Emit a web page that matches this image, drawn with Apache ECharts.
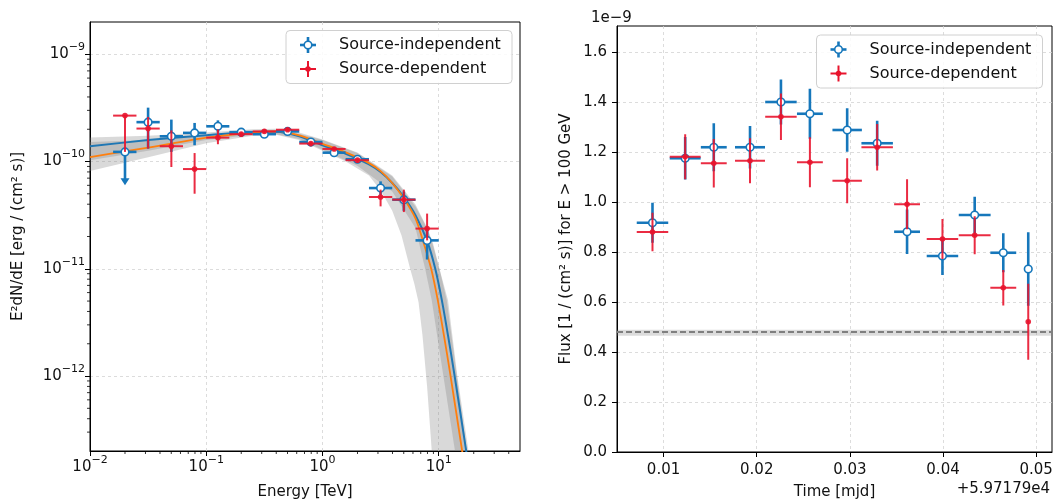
<!DOCTYPE html>
<html><head><meta charset="utf-8">
<script src="https://cdn.jsdelivr.net/npm/echarts@6/dist/echarts.min.js"></script>
<style>html,body{margin:0;padding:0;background:#fff}#c{width:1053px;height:499px}</style>
</head><body><div id="c"></div>
<script>
// ================= DATA =================
// --- Left panel: SED flux points (energy in TeV, E^2 dN/dE in erg/cm2/s) ---
const sedEnergy    = [0.0200,0.0316,0.0501,0.0794,0.126,0.200,0.316,0.501,0.794,1.26,2.00,3.16,5.01,7.94];
const sedEnergyMin = [0.0158,0.0251,0.0398,0.0631,0.100,0.158,0.251,0.398,0.631,1.00,1.58,2.51,3.98,6.31];
const sedEnergyMax = [0.0251,0.0398,0.0631,0.100,0.158,0.251,0.398,0.631,1.00,1.58,2.51,3.98,6.31,10.0];
// Source-independent
const sedIndep   = [1.23e-10,2.33e-10,1.72e-10,1.85e-10,2.13e-10,1.88e-10,1.80e-10,1.91e-10,1.52e-10,1.21e-10,1.05e-10,5.66e-11,4.41e-11,1.84e-11];
const sedIndepLo = [6.15e-11,1.32e-10,1.23e-10,1.42e-10,1.86e-10,1.80e-10,1.71e-10,1.82e-10,1.45e-10,1.16e-10,1.00e-10,4.84e-11,3.47e-11,1.22e-11];
const sedIndepHi = [1.23e-10,3.18e-10,2.46e-10,2.29e-10,2.42e-10,1.97e-10,1.88e-10,2.00e-10,1.58e-10,1.26e-10,1.10e-10,6.53e-11,5.25e-11,2.37e-11];
const sedIndepUL = [1,0,0,0,0,0,0,0,0,0,0,0,0,0];
// Source-dependent
const sedDep   = [2.68e-10,2.03e-10,1.39e-10,8.51e-11,1.67e-10,1.80e-10,1.91e-10,1.98e-10,1.47e-10,1.31e-10,1.03e-10,4.67e-11,4.41e-11,2.37e-11];
const sedDepLo = [1.23e-10,1.32e-10,8.89e-11,5.01e-11,1.45e-10,1.71e-10,1.84e-10,1.91e-10,1.41e-10,1.26e-10,9.77e-11,3.82e-11,3.38e-11,1.84e-11];
const sedDepHi = [2.72e-10,2.60e-10,1.95e-10,1.20e-10,1.99e-10,1.88e-10,2.00e-10,2.07e-10,1.53e-10,1.36e-10,1.07e-10,5.47e-11,5.47e-11,3.27e-11];
// Model curves as [log10(E/TeV), log10(flux)]
const indepModelLog = [[-2.0,-9.858],[-1.5,-9.80],[-1.0,-9.755],[-0.6,-9.725],[-0.4,-9.722],[-0.2,-9.765],[0.0,-9.849],[0.2,-9.927],[0.4,-10.026],[0.5,-10.098],[0.6,-10.20],[0.7,-10.331],[0.8,-10.50],[0.9,-10.74],[0.97,-11.0],[1.027,-11.295],[1.08,-11.624],[1.13,-11.954],[1.233,-12.675],[1.28,-13.02]];
const depModelLog   = [[-2.0,-9.958],[-1.5,-9.87],[-1.0,-9.777],[-0.6,-9.73],[-0.4,-9.718],[-0.2,-9.755],[0.0,-9.835],[0.2,-9.915],[0.4,-10.015],[0.5,-10.09],[0.6,-10.20],[0.7,-10.345],[0.8,-10.53],[0.865,-10.74],[0.935,-11.0],[0.992,-11.295],[1.045,-11.624],[1.095,-11.954],[1.198,-12.675],[1.245,-13.02]];
// Error bands (upper edge and lower edge), [log10(E), log10(flux)]
const indepBandUpper = [[-2.1,-9.78],[-2,-9.777],[-1.5,-9.76],[-1,-9.73],[-0.6,-9.70],[-0.4,-9.695],[-0.2,-9.73],[0,-9.795],[0.3,-9.915],[0.6,-10.13],[0.8,-10.40],[0.9,-10.62],[0.95,-10.76],[1.006,-11.0],[1.08,-11.295],[1.16,-12.0],[1.256,-12.70],[1.30,-13.1]];
const indepBandLower = [[-2.1,-10.01],[-2,-9.989],[-1.5,-9.90],[-1,-9.80],[-0.6,-9.75],[-0.4,-9.745],[-0.2,-9.79],[0,-9.89],[0.3,-10.04],[0.6,-10.28],[0.8,-10.62],[0.883,-11.0],[0.94,-11.295],[1.04,-12.0],[1.14,-12.70],[1.18,-13.1]];
const depBandUpper   = [[-2.1,-9.82],[-2,-9.818],[-1.5,-9.80],[-1,-9.76],[-0.6,-9.715],[-0.4,-9.705],[-0.2,-9.74],[0,-9.80],[0.3,-9.92],[0.6,-10.14],[0.8,-10.42],[0.9,-10.62],[0.95,-10.78],[1.006,-11.0],[1.069,-11.295],[1.15,-11.95],[1.241,-12.70],[1.28,-13.1]];
const depBandLower   = [[-2.1,-10.12],[-2,-10.089],[-1.5,-9.96],[-1,-9.83],[-0.6,-9.76],[-0.4,-9.75],[-0.2,-9.80],[0,-9.90],[0.2,-10.0],[0.4,-10.13],[0.5,-10.27],[0.6,-10.46],[0.68,-10.69],[0.754,-11.0],[0.79,-11.14],[0.826,-11.31],[0.86,-11.62],[0.90,-12.1],[0.94,-12.70],[0.96,-13.1]];
// Axis ranges / ticks (log10 units)
const sedXMin = -2, sedXMax = Math.log10(50);
const sedYMin = Math.log10(2e-13), sedYMax = Math.log10(2e-9);
const sedXTicks = [-2,-1,0,1];
const sedYTicks = [-12,-11,-10,-9];

// --- Right panel: light curve (time offset from 59717.9 MJD, flux in 1e-9 /cm2/s) ---
const lcTime    = [0.00881,0.01232,0.01539,0.01928,0.02260,0.02571,0.02971,0.03293,0.03614,0.03994,0.04340,0.04647,0.04915];
const lcTimeErr = [0.00169,0.00166,0.00139,0.00161,0.00169,0.00139,0.00158,0.00169,0.00139,0.00169,0.00171,0.00139,0.0001];
const lcIndep    = [0.917,1.175,1.219,1.219,1.400,1.353,1.288,1.235,0.881,0.784,0.948,0.797,0.732];
const lcIndepErr = [0.080,0.085,0.096,0.085,0.090,0.100,0.087,0.090,0.089,0.076,0.073,0.078,0.147];
const lcDep      = [0.880,1.181,1.155,1.165,1.341,1.159,1.085,1.219,0.991,0.852,0.867,0.657,0.521];
const lcDepErr   = [0.077,0.090,0.097,0.090,0.093,0.100,0.090,0.093,0.100,0.080,0.076,0.071,0.152];
const refFlux = 0.477, refFluxErr = 0.012;
const lcXMin = 0.005, lcXMax = 0.0517, lcYMin = 0, lcYMax = 1.704;
const lcXTicks = [0.01,0.02,0.03,0.04,0.05];
const lcYTicks = [0,0.2,0.4,0.6,0.8,1.0,1.2,1.4,1.6];

// ================= STYLE =================
const FONT = 'DejaVu Sans';
const BLUE = '#1677bb', RED = '#e8142d', ORANGE = '#ff7f0e', MBLUE = '#1f77b4';
const lg = Math.log10;

// ================= BUILD =================
const sedIndepData = sedEnergy.map((e,i)=>[lg(e),lg(sedIndep[i]),lg(sedEnergyMin[i]),lg(sedEnergyMax[i]),lg(sedIndepLo[i]),lg(sedIndepHi[i]),sedIndepUL[i]]);
const sedDepData = sedEnergy.map((e,i)=>[lg(e),lg(sedDep[i]),lg(sedEnergyMin[i]),lg(sedEnergyMax[i]),lg(sedDepLo[i]),lg(sedDepHi[i]),0]);
const lcIndepData = lcTime.map((t,i)=>[t,lcIndep[i],t-lcTimeErr[i],t+lcTimeErr[i],lcIndep[i]-lcIndepErr[i],lcIndep[i]+lcIndepErr[i],0]);
const lcDepData = lcTime.map((t,i)=>[t,lcDep[i],t-lcTimeErr[i],t+lcTimeErr[i],lcDep[i]-lcDepErr[i],lcDep[i]+lcDepErr[i],0]);

function minorVals(lo, hi){
  const out=[];
  for(let n=Math.floor(lo); n<=Math.ceil(hi); n++) for(let k=2;k<=9;k++){const v=n+Math.log10(k); if(v>lo && v<hi) out.push(v);}
  return out;
}
const sedXMinor = minorVals(sedXMin, sedXMax);
const sedYMinor = minorVals(sedYMin, sedYMax);

function makeErrRender(color, lw, marker, opacity){
  return function(params, api){
    const x=api.value(0), y=api.value(1), xl=api.value(2), xh=api.value(3), yl=api.value(4), yh=api.value(5), ul=api.value(6);
    const c=api.coord([x,y]);
    const a=api.coord([xl,y]), b=api.coord([xh,y]);
    const lo=api.coord([x,yl]), hi=api.coord([x,yh]);
    const ls={stroke:color, lineWidth:lw, opacity:opacity};
    const ch=[
      {type:'line', shape:{x1:a[0],y1:c[1],x2:b[0],y2:c[1]}, style:ls},
      {type:'line', shape:{x1:c[0],y1:hi[1],x2:c[0],y2:ul?lo[1]-4:lo[1]}, style:ls}
    ];
    if(ul) ch.push({type:'polygon', shape:{points:[[c[0]-4.5,lo[1]-6],[c[0]+4.5,lo[1]-6],[c[0],lo[1]+1]]}, style:{fill:color}});
    if(marker==='open') ch.push({type:'circle', shape:{cx:c[0],cy:c[1],r:3.8}, style:{fill:'#fff', stroke:color, lineWidth:1.6}});
    else ch.push({type:'circle', shape:{cx:c[0],cy:c[1],r:2.8}, style:{fill:color, opacity:opacity}});
    return {type:'group', children:ch};
  };
}
function makeBandRender(upper, lower){
  return function(params, api){
    if(params.dataIndex!==0) return null;
    const pts = upper.map(p=>api.coord(p)).concat(lower.slice().reverse().map(p=>api.coord(p)));
    return {type:'polygon', shape:{points:pts}, style:{fill:'rgba(128,128,128,0.3)'}};
  };
}
function minorXRender(params, api){
  const p=api.coord([api.value(0), sedYMin]);
  return {type:'line', shape:{x1:p[0],y1:p[1],x2:p[0],y2:p[1]+3}, style:{stroke:'#000', lineWidth:0.8}};
}
function minorYRender(params, api){
  const p=api.coord([sedXMin, api.value(1)]);
  return {type:'line', shape:{x1:p[0]-3,y1:p[1],x2:p[0],y2:p[1]}, style:{stroke:'#000', lineWidth:0.8}};
}

const pow10 = v => '{b|10}{s|' + (v<0?'\u2212':'') + Math.abs(v) + '}';
const powRich = {
  b:{fontSize:15, fontFamily:FONT, color:'#111', lineHeight:16},
  s:{fontSize:11, fontFamily:FONT, color:'#111', lineHeight:12, padding:[0,0,14,0]}
};
const splitStyle = {show:true, lineStyle:{color:'#d3d3d3', width:0.8, type:[3,3]}};
const axLine = {show:true, onZero:false, lineStyle:{color:'#000', width:1}};
const nameStyle = {fontFamily:FONT, fontSize:15, color:'#111'};

function legendGraphic(x0, y0){
  const items=[];
  items.push({type:'rect', shape:{x:x0, y:y0, width:226, height:53, r:4}, style:{fill:'rgba(255,255,255,0.85)', stroke:'#d0d0d0', lineWidth:1}, z:100});
  const mx=x0+22, r1=y0+14.5, r2=y0+38.5;
  items.push({type:'line', shape:{x1:mx-8,y1:r1,x2:mx+8,y2:r1}, style:{stroke:BLUE, lineWidth:2.6}, z:101});
  items.push({type:'line', shape:{x1:mx,y1:r1-8,x2:mx,y2:r1+8}, style:{stroke:BLUE, lineWidth:2.6}, z:101});
  items.push({type:'circle', shape:{cx:mx,cy:r1,r:3.8}, style:{fill:'#fff', stroke:BLUE, lineWidth:1.6}, z:102});
  items.push({type:'line', shape:{x1:mx-8,y1:r2,x2:mx+8,y2:r2}, style:{stroke:RED, lineWidth:2}, z:101});
  items.push({type:'line', shape:{x1:mx,y1:r2-8,x2:mx,y2:r2+8}, style:{stroke:RED, lineWidth:2}, z:101});
  items.push({type:'circle', shape:{cx:mx,cy:r2,r:2.8}, style:{fill:RED}, z:102});
  items.push({type:'text', x:x0+53, y:r1, style:{text:'Source-independent', font:'16px "DejaVu Sans"', fill:'#111', verticalAlign:'middle', align:'left'}, z:102});
  items.push({type:'text', x:x0+53, y:r2, style:{text:'Source-dependent', font:'16px "DejaVu Sans"', fill:'#111', verticalAlign:'middle', align:'left'}, z:102});
  return items;
}

const option = {
  animation:false,
  backgroundColor:'#fff',
  textStyle:{fontFamily:FONT},
  grid:[
    {left:90, top:22, right:533, bottom:48, show:true, borderColor:'#000', borderWidth:1, backgroundColor:'transparent', containLabel:false, outerBoundsMode:'none'},
    {left:617, top:26, right:1, bottom:47, show:true, borderColor:'#000', borderWidth:1, backgroundColor:'transparent', containLabel:false, outerBoundsMode:'none'}
  ],
  xAxis:[
    {type:'value', gridIndex:0, min:sedXMin, max:sedXMax,
     axisLine:axLine, axisTick:{show:true, length:5, customValues:sedXTicks, lineStyle:{color:'#000'}},
     axisLabel:{customValues:sedXTicks, formatter:pow10, rich:powRich, margin:8},
     splitLine:splitStyle,
     name:'Energy [TeV]', nameLocation:'middle', nameGap:33, nameTextStyle:nameStyle},
    {type:'value', gridIndex:1, min:lcXMin, max:lcXMax,
     axisLine:axLine, axisTick:{show:true, length:5, customValues:lcXTicks, lineStyle:{color:'#000'}},
     axisLabel:{customValues:lcXTicks, formatter:v=>v.toFixed(2), fontSize:15, fontFamily:FONT, color:'#111', margin:11},
     splitLine:splitStyle,
     name:'Time [mjd]', nameLocation:'middle', nameGap:33, nameTextStyle:nameStyle}
  ],
  yAxis:[
    {type:'value', gridIndex:0, min:sedYMin, max:sedYMax,
     axisLine:axLine, axisTick:{show:true, length:5, customValues:sedYTicks, lineStyle:{color:'#000'}},
     axisLabel:{customValues:sedYTicks, formatter:pow10, rich:powRich, margin:5},
     splitLine:splitStyle,
     name:'E\u00b2dN/dE [erg / (cm\u00b2 s)]', nameLocation:'middle', nameGap:64, nameRotate:90, nameTextStyle:nameStyle},
    {type:'value', gridIndex:1, min:lcYMin, max:lcYMax,
     axisLine:axLine, axisTick:{show:true, length:5, customValues:lcYTicks, lineStyle:{color:'#000'}},
     axisLabel:{customValues:lcYTicks, formatter:v=>v.toFixed(1), fontSize:15, fontFamily:FONT, color:'#111', margin:10},
     splitLine:splitStyle,
     name:'Flux [1 / (cm\u00b2 s)] for E > 100 GeV', nameLocation:'middle', nameGap:43, nameRotate:90, nameTextStyle:nameStyle}
  ],
  series:[
    {type:'custom', xAxisIndex:0, yAxisIndex:0, clip:true, z:1, silent:true, data:depBandUpper, renderItem:makeBandRender(depBandUpper, depBandLower)},
    {type:'custom', xAxisIndex:0, yAxisIndex:0, clip:true, z:1, silent:true, data:indepBandUpper, renderItem:makeBandRender(indepBandUpper, indepBandLower)},
    {type:'line', xAxisIndex:0, yAxisIndex:0, data:indepModelLog, showSymbol:false, smooth:0.25, clip:true, z:2, lineStyle:{color:MBLUE, width:2}},
    {type:'line', xAxisIndex:0, yAxisIndex:0, data:depModelLog, showSymbol:false, smooth:0.25, clip:true, z:3, lineStyle:{color:ORANGE, width:1.8}},
    {type:'custom', xAxisIndex:0, yAxisIndex:0, z:4, data:sedIndepData, encode:{x:0,y:1}, renderItem:makeErrRender(BLUE, 2.6, 'open', 1)},
    {type:'custom', xAxisIndex:0, yAxisIndex:0, z:5, data:sedDepData, encode:{x:0,y:1}, renderItem:makeErrRender(RED, 2, 'dot', 0.9)},
    {type:'custom', xAxisIndex:0, yAxisIndex:0, z:6, silent:true, data:sedXMinor.map(v=>[v, sedYMin]), renderItem:minorXRender},
    {type:'custom', xAxisIndex:0, yAxisIndex:0, z:6, silent:true, data:sedYMinor.map(v=>[sedXMin, v]), renderItem:minorYRender},
    {type:'line', xAxisIndex:1, yAxisIndex:1, data:[], z:2, silent:true,
     markLine:{symbol:'none', silent:true, label:{show:false}, lineStyle:{color:'#7f7f7f', type:[6,3], width:1.8}, data:[{yAxis:refFlux}]},
     markArea:{silent:true, itemStyle:{color:'rgba(128,128,128,0.28)'}, data:[[{yAxis:refFlux-refFluxErr},{yAxis:refFlux+refFluxErr}]]}},
    {type:'custom', xAxisIndex:1, yAxisIndex:1, z:4, data:lcIndepData, encode:{x:0,y:1}, renderItem:makeErrRender(BLUE, 2.6, 'open', 1)},
    {type:'custom', xAxisIndex:1, yAxisIndex:1, z:5, data:lcDepData, encode:{x:0,y:1}, renderItem:makeErrRender(RED, 2, 'dot', 0.9)}
  ],
  graphic:[
    ...legendGraphic(286, 30.5),
    ...legendGraphic(816.5, 35),
    {type:'text', x:591, y:18, style:{text:'1e\u22129', font:'15px "DejaVu Sans"', fill:'#111', verticalAlign:'middle', align:'left'}},
    {type:'text', x:1050, y:489, style:{text:'+5.97179e4', font:'15px "DejaVu Sans"', fill:'#111', verticalAlign:'middle', align:'right'}}
  ]
};
const chart = echarts.init(document.getElementById('c'), null, {renderer:'canvas', width:1053, height:499});
chart.setOption(option);
</script>
</body></html>
